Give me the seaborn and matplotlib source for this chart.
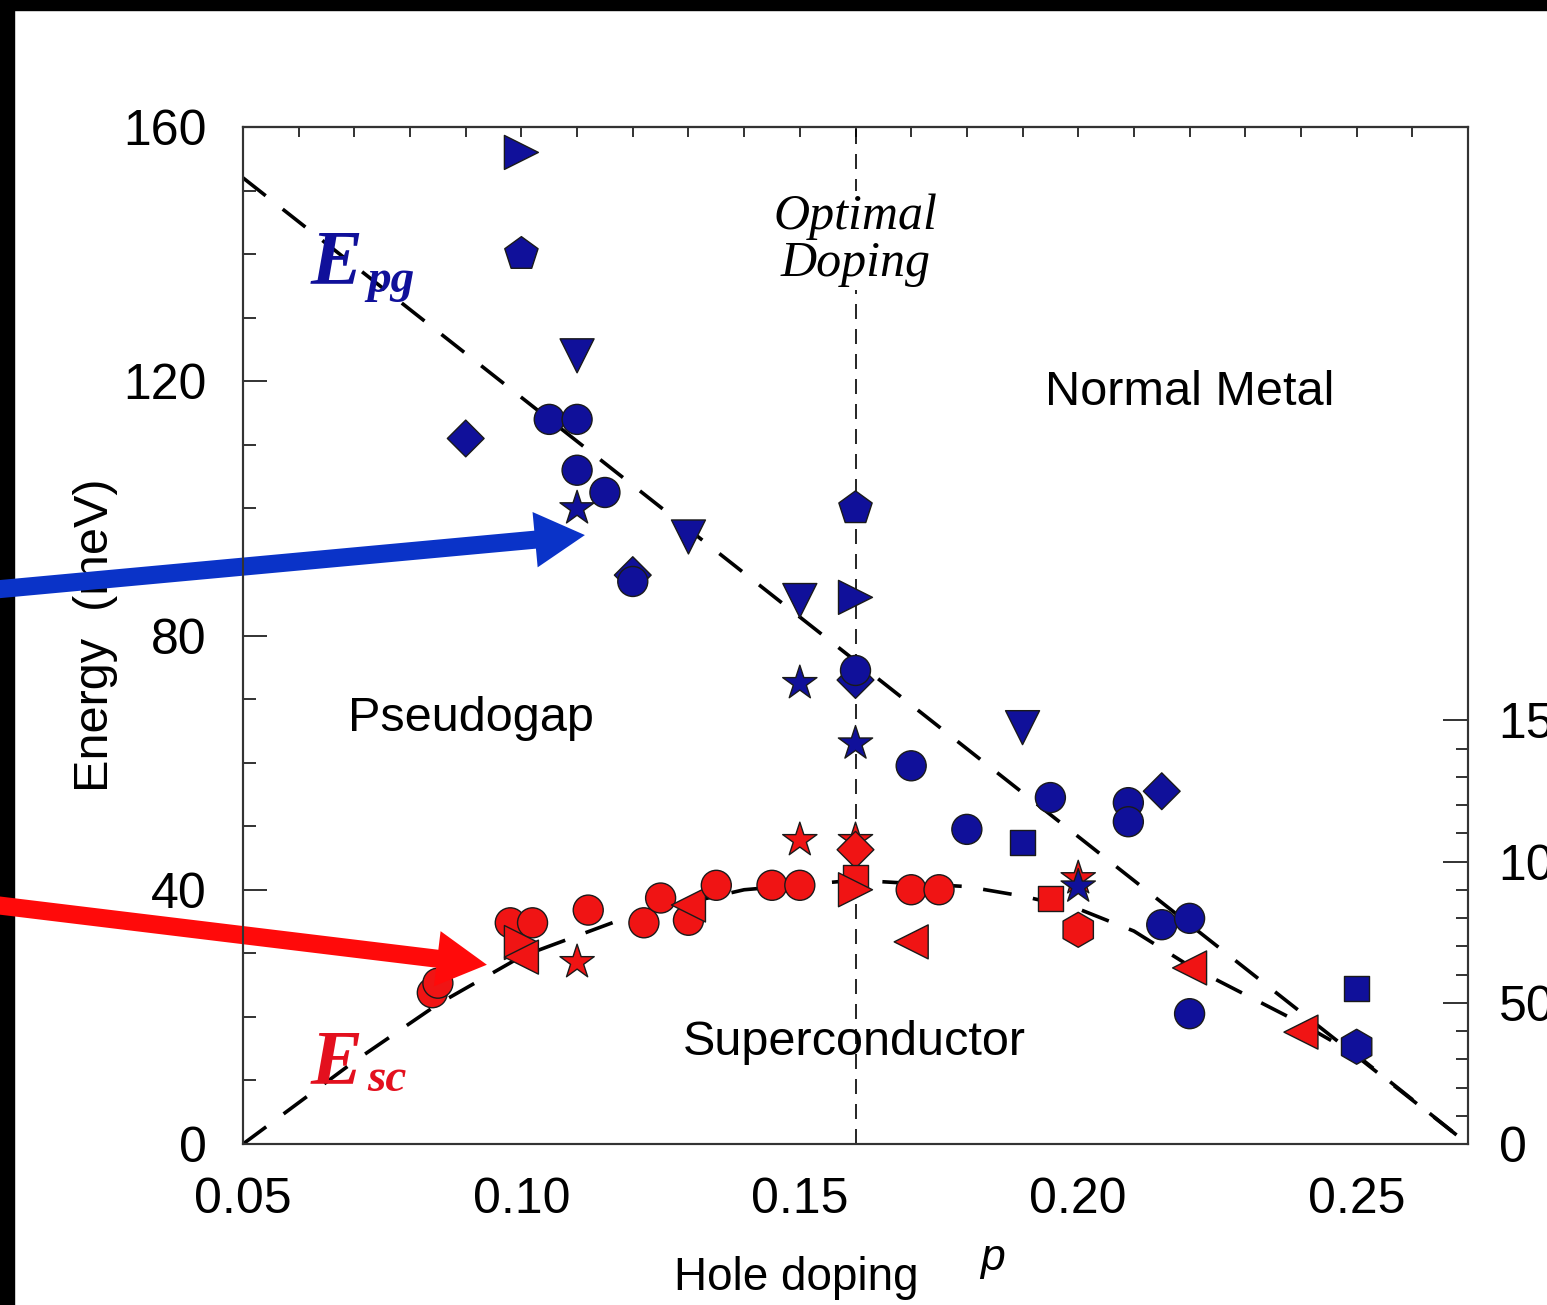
"""
Phase diagram: pseudogap and superconducting gap energies vs hole doping.
"""
import numpy as np
import pandas as pd
import matplotlib.pyplot as plt
import seaborn as sns
from matplotlib.patches import Rectangle
from matplotlib.ticker import MultipleLocator, FixedLocator

# pseudogap energy E_pg (blue)
p_pg = [0.100, 0.100, 0.110, 0.105, 0.110, 0.090, 0.110, 0.115, 0.110, 0.130,
        0.120, 0.120, 0.150, 0.160, 0.160, 0.160, 0.160, 0.150, 0.160, 0.170,
        0.190, 0.180, 0.190, 0.195, 0.209, 0.209, 0.215, 0.200, 0.215, 0.220,
        0.220, 0.250, 0.250]
e_pg = [156.0, 140.0, 124.0, 114.0, 114.0, 111.0, 106.0, 102.5, 100.0, 95.5,
        89.5, 88.5, 85.5, 86.0, 100.0, 73.0, 74.5, 72.5, 63.0, 59.5,
        65.5, 49.5, 47.5, 54.5, 53.7, 50.7, 55.5, 40.5, 34.5, 35.5,
        20.5, 24.5, 15.3]
m_pg = [">", "p", "v", "o", "o", "D", "o", "o", "*", "v",
        "D", "o", "v", ">", "p", "D", "o", "*", "*", "o",
        "v", "o", "s", "o", "o", "o", "D", "*", "o", "o",
        "o", "s", "h"]

# superconducting gap energy E_sc (red)
p_sc = [0.084, 0.085, 0.098, 0.102, 0.100, 0.100, 0.110, 0.112, 0.122, 0.125,
        0.130, 0.130, 0.135, 0.145, 0.150, 0.150, 0.160, 0.160, 0.160, 0.160,
        0.170, 0.175, 0.170, 0.200, 0.195, 0.200, 0.220, 0.240]
e_sc = [23.8, 25.3, 34.8, 34.8, 31.7, 29.4, 28.6, 36.8, 34.8, 38.7,
        35.2, 37.6, 40.7, 40.7, 40.7, 47.8, 47.8, 46.3, 42.0, 40.0,
        40.0, 40.0, 31.8, 41.8, 38.7, 33.7, 27.7, 17.6]
m_sc = ["o", "o", "o", "o", ">", "<", "*", "o", "o", "o",
        "o", "<", "o", "o", "o", "*", "*", "D", "s", ">",
        "o", "o", "<", "*", "s", "h", "<", "<"]

# dashed guide lines
p_pg_line = [0.05, 0.27]
e_pg_line = [152.0, 0.0]
p_sc_line = [0.05, 0.07, 0.08, 0.085, 0.10, 0.12, 0.14, 0.16, 0.18, 0.19,
             0.20, 0.21, 0.22, 0.23, 0.24, 0.25, 0.27]
e_sc_line = [0.0, 13.0, 19.0, 22.0, 29.5, 36.0, 40.0, 41.5, 40.5, 39.0,
             37.0, 33.5, 28.0, 23.5, 19.0, 14.0, 0.0]
p_opt = 0.16

# right-hand axis ticks
right_major = [0, 50, 100, 150]
right_minor = [10, 20, 30, 40, 60, 70, 80, 90, 110, 120, 130, 140]

df = pd.concat([
    pd.DataFrame({"p": p_sc, "E": e_sc, "shape": m_sc, "gap": "sc"}),
    pd.DataFrame({"p": p_pg, "E": e_pg, "shape": m_pg, "gap": "pg"}),
], ignore_index=True)

sns.set_theme(style="white")
plt.rcParams["font.family"] = ["Liberation Sans", "DejaVu Sans"]
plt.rcParams["xtick.direction"] = "in"
plt.rcParams["ytick.direction"] = "in"
for k in ("text.color", "axes.labelcolor", "xtick.labelcolor", "ytick.labelcolor"):
    plt.rcParams[k] = "black"

NAVY = "#10109a"
RED = "#f01414"
TICKC = "#222222"

fig = plt.figure(figsize=(15.47, 13.05), dpi=100)
fig.patch.set_facecolor("white")
# black frame at top/left of the screenshot
fig.patches.append(Rectangle((0, 1 - 10 / 1305), 1, 10 / 1305, transform=fig.transFigure,
                             color="black", zorder=-1))
fig.patches.append(Rectangle((0, 0), 14 / 1547, 1, transform=fig.transFigure,
                             color="black", zorder=-1))

ax = fig.add_axes([243 / 1547, 1 - 1144 / 1305, 1225 / 1547, 1017 / 1305])

ax.axvline(p_opt, color="black", lw=1.2, ls=(0, (9, 6)), zorder=1)
ax.plot(p_pg_line, e_pg_line, color="black", lw=2.6, ls=(0, (8, 6)), zorder=2)
ax.plot(p_sc_line, e_sc_line, color="black", lw=2.6, ls=(0, (8, 6)), zorder=2)

px2s = lambda d: (d * 0.72) ** 2
sns.scatterplot(data=df, x="p", y="E", hue="gap", style="shape", size="shape",
                palette={"pg": NAVY, "sc": RED},
                markers={"o": "o", "s": "s", "D": "D", "*": "*", "v": "v",
                         ">": ">", "<": "<", "p": "p", "h": "h"},
                sizes={"o": px2s(30), "s": px2s(25), "D": px2s(26), "*": px2s(36),
                       "v": px2s(34), ">": px2s(34), "<": px2s(34), "p": px2s(35),
                       "h": px2s(35)},
                edgecolor="#1a1a1a", linewidth=1.0, legend=False, zorder=3, ax=ax)

ax.set_xlim(0.05, 0.27)
ax.set_ylim(0, 160)
ax.set_xlabel("")
ax.set_ylabel("Energy  (meV)", fontsize=35)
ax.yaxis.set_label_coords(-0.102, 0.5)

ax.xaxis.set_major_locator(FixedLocator([0.05, 0.10, 0.15, 0.20, 0.25]))
ax.xaxis.set_minor_locator(MultipleLocator(0.01))
ax.yaxis.set_major_locator(MultipleLocator(40))
ax.yaxis.set_minor_locator(MultipleLocator(10))
ax.set_xticklabels(["0.05", "0.10", "0.15", "0.20", "0.25"])
ax.tick_params(which="major", length=17, width=1.3, color=TICKC, labelsize=36)
ax.tick_params(axis="x", which="major", pad=24)
ax.tick_params(axis="y", which="major", pad=26)
ax.tick_params(which="minor", length=9, width=1.3, color=TICKC)
ax.tick_params(axis="both", which="both", top=False, right=False)

top = ax.secondary_xaxis("top")
top.xaxis.set_major_locator(MultipleLocator(0.01))
top.tick_params(length=7, width=1.3, color=TICKC, direction="in", labeltop=False)

ax2 = ax.twinx()
ax2.set_ylim(0, 360)
ax2.yaxis.set_major_locator(FixedLocator(right_major))
ax2.yaxis.set_minor_locator(FixedLocator(right_minor))
ax2.tick_params(which="major", length=18, width=1.3, color=TICKC, labelsize=36, pad=22)
ax2.tick_params(which="minor", length=9, width=1.3, color=TICKC)

for a in (ax, ax2):
    for s in a.spines.values():
        s.set_color("#333333")
        s.set_linewidth(1.5)
top.spines["top"].set_color("#333333")
top.spines["top"].set_linewidth(1.5)

# axis label pieces below the plot
ax.text(0.452, -0.1436, "Hole doping", transform=ax.transAxes, fontsize=33,
        ha="center", va="baseline")
ax.text(0.612, -0.124, "p", transform=ax.transAxes, fontsize=32, style="italic",
        ha="center", va="baseline")

# annotations inside the plot
serif = ["Liberation Serif", "DejaVu Serif"]
ax.text(p_opt, 142.2, "Optimal\nDoping", family=serif,
        style="italic", fontsize=36, ha="center", va="center", linespacing=1.0,
        bbox=dict(facecolor="white", edgecolor="none", pad=2), zorder=2)
ax.text(0.194, 118.2, "Normal Metal", fontsize=35, ha="left", va="center")
ax.text(0.0689, 67.0, "Pseudogap", fontsize=35, ha="left", va="center")
ax.text(0.129, 16.0, "Superconductor", fontsize=35, ha="left", va="center")

ax.text(0.0622, 135.5, "E", family=serif, style="italic", weight="bold",
        fontsize=56, color=NAVY, ha="left", va="baseline")
ax.text(0.0724, 134.0, "pg", family=serif, style="italic", weight="bold",
        fontsize=34, color=NAVY, ha="left", va="baseline")
ax.text(0.0622, 9.5, "E", family=serif, style="italic", weight="bold",
        fontsize=56, color="#e3101e", ha="left", va="baseline")
ax.text(0.0724, 8.3, "sc", family=serif, style="italic", weight="bold",
        fontsize=34, color="#e3101e", ha="left", va="baseline")

# the two thick arrows coming in from the left edge
ax.annotate("", xy=(0.1114, 95.8), xycoords="data", xytext=(-0.01, 0.5475),
            textcoords="figure fraction", annotation_clip=False,
            arrowprops=dict(width=13, headwidth=40, headlength=36, shrink=0,
                            facecolor="#0a33c8", edgecolor="none"), zorder=5)
ax.annotate("", xy=(0.0938, 28.2), xycoords="data", xytext=(-0.01, 0.3075),
            textcoords="figure fraction", annotation_clip=False,
            arrowprops=dict(width=13, headwidth=40, headlength=36, shrink=0,
                            facecolor="#ff0a0a", edgecolor="none"), zorder=5)

fig.savefig("out.png", dpi=100)
plt.close(fig)
